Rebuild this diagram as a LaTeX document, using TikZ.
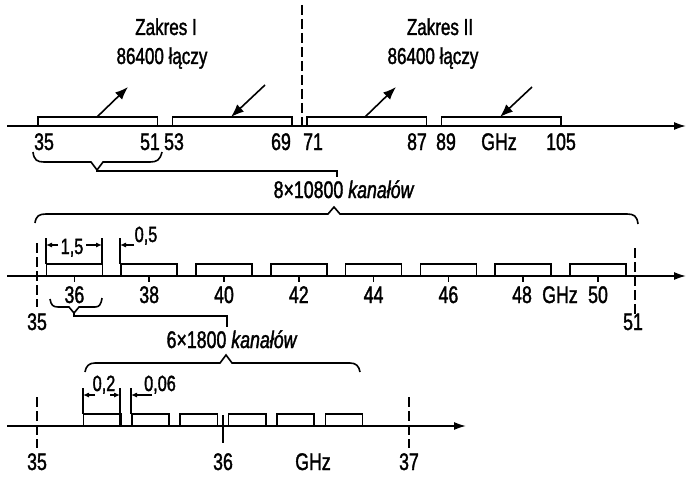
\documentclass[tikz,border=0pt]{standalone}
\usepackage{fontspec}
\setmainfont{Liberation Sans}[FakeStretch=0.74,FakeBold=1.5]
\usetikzlibrary{arrows.meta}
\begin{document}
\begin{tikzpicture}[x=1pt,y=-1pt,line width=1.6pt,
  lbl/.style={font=\fontsize{24}{26}\selectfont, inner sep=0pt, anchor=base},
  ttl/.style={font=\fontsize{23}{25}\selectfont, inner sep=0pt, anchor=base},
  dimlbl/.style={font=\fontsize{22}{24}\selectfont, inner sep=0pt, anchor=base},
  axisarrow/.style={-{Latex[length=12pt,width=8pt]}},
  bigarrow/.style={-{Latex[length=13pt,width=10pt]}},
  dimarrow/.style={-{Latex[length=6pt,width=5pt]}, line width=1.1pt},
  dashv/.style={dash pattern=on 10pt off 4pt, line width=1.4pt}]
\useasboundingbox (0,0) rectangle (687,481);

% ---------------- Row 1 ----------------
\draw[dashv] (302,5) -- (302,127);
\coordinate (a1s) at (7,126);
\coordinate (a1e) at (686,126);
\draw[axisarrow] (a1s) -- (a1e);
\draw (38,126) rectangle (157.5,117);
\draw (172.4,126) rectangle (292,117);
\draw (307,126) rectangle (426.5,117);
\draw (441.5,126) rectangle (561,117);
\coordinate (p1a) at (97,117);  \coordinate (p1b) at (128,87);
\coordinate (p2a) at (265,85);  \coordinate (p2b) at (231,117);
\coordinate (p3a) at (365,117); \coordinate (p3b) at (396,87);
\coordinate (p4a) at (532,87);  \coordinate (p4b) at (500,117);
\draw[bigarrow] (p1a) -- (p1b);
\draw[bigarrow] (p2a) -- (p2b);
\draw[bigarrow] (p3a) -- (p3b);
\draw[bigarrow] (p4a) -- (p4b);

\node[ttl] (z1) at (166,35) {Zakres I};
\node[ttl] (z1n) at (162,64) {86400 łączy};
\node[ttl] (z2) at (440,35) {Zakres II};
\node[ttl] (z2n) at (433,64) {86400 łączy};

\node[lbl] (r1l35) at (44,150) {35};
\node[lbl] (r1l51) at (150,150) {51};
\node[lbl] (r1l53) at (174,150) {53};
\node[lbl] (r1l69) at (281,150) {69};
\node[lbl] (r1l71) at (313,150) {71};
\node[lbl] (r1l87) at (417,150) {87};
\node[lbl] (r1l89) at (446,150) {89};
\node[lbl] (r1ghz) at (499,150) {GHz};
\node[lbl] (r1l105) at (561,150) {105};

% brace under 35-51 and leader
\draw (33,152) .. controls (34,160) and (37,162) .. (44,162) -- (91,162) -- (97,170) -- (103,162) -- (150,162) .. controls (157,162) and (160,160) .. (162,152);
\draw (97,170) -- (97,171) -- (337,171) -- (337,177);

\node[lbl] (k8) at (344,198) {8×10800 \textit{kanałów}};

% big brace row 2
\draw (35,223) .. controls (36,216) and (39,214) .. (46,214) -- (328,214) -- (334,207) -- (340,214) -- (627,214) .. controls (634,214) and (637,216) .. (638,224);

% ---------------- Row 2 ----------------
\coordinate (a2s) at (7,276);
\coordinate (a2e) at (686,276);
\draw[axisarrow] (a2s) -- (a2e);
\draw[dashv] (37,243) -- (37,307);
\draw[dashv] (635,248) -- (635,317);
\foreach \c in {36,38,40,42,44,46,48,50}{
  \pgfmathsetmacro{\xc}{37+(\c-35)*37.4}
  \draw (\xc-28,276) rectangle (\xc+28,264);
  \draw (\xc,276) -- (\xc,282);
}
\foreach \c in {36,38,40,42,44,46}{
  \pgfmathsetmacro{\xc}{37+(\c-35)*37.4}
  \node[lbl] (r2l\c) at (\xc,303) {\c};
}
\node[lbl] (r2l48) at (522,303) {48};
\node[lbl] (r2ghz) at (560,303) {GHz};
\node[lbl] (r2l50) at (598,303) {50};
\node[lbl] (r2l35) at (37,330) {35};
\node[lbl] (r2l51) at (633,330) {51};

% dimensions row 2
\draw (46,238) -- (46,264);
\draw (102,238) -- (102,264);
\draw (120,238) -- (120,264);
\coordinate (d1a) at (58,245);  \coordinate (d1b) at (46,245);
\coordinate (d2a) at (86,245);  \coordinate (d2b) at (102,245);
\coordinate (d3a) at (134,245); \coordinate (d3b) at (120,245);
\draw[dimarrow] (d1a) -- (d1b);
\draw[dimarrow] (d2a) -- (d2b);
\draw[dimarrow] (d3a) -- (d3b);
\node[dimlbl] (dl15) at (72,254) {1,5};
\node[dimlbl] (dl05) at (146,242) {0,5};

% small brace under 36 and leader
\draw (50,299) .. controls (51,305) and (53,307) .. (58,307) -- (69,307) -- (74,313) -- (79,307) -- (95,307) .. controls (99,307) and (101,305) .. (102,298);
\draw (74,313) -- (74,316) -- (227,316) -- (227,327);

\node[lbl] (k6) at (232,348) {6×1800 \textit{kanałów}};

% brace row 3
\draw (85,372) .. controls (86,366) and (89,363) .. (95,363) -- (220,363) -- (226,355) -- (232,363) -- (350,363) .. controls (356,363) and (359,366) .. (360,372);

% ---------------- Row 3 ----------------
\coordinate (a3s) at (7,426);
\coordinate (a3e) at (466,426);
\draw[axisarrow] (a3s) -- (a3e);
\draw[dashv] (37,397) -- (37,448);
\draw[dashv] (409,397) -- (409,448);
\draw (223,415) -- (223,443);
\foreach \k in {0,...,5}{
  \pgfmathsetmacro{\xa}{37+(0.25+0.26*\k)*186}
  \draw (\xa,426) rectangle (\xa+37.2,414);
}
\node[lbl] (r3l35) at (37,470) {35};
\node[lbl] (r3l36) at (223,470) {36};
\node[lbl] (r3ghz) at (313,470) {GHz};
\node[lbl] (r3l37) at (409,470) {37};

% dimensions row 3
\draw (83,388) -- (83,414);
\draw (120,388) -- (120,426);
\draw (131,388) -- (131,414);
\coordinate (e1a) at (95,395);  \coordinate (e1b) at (83,395);
\coordinate (e2a) at (110,395); \coordinate (e2b) at (120,395);
\coordinate (e3a) at (152,395); \coordinate (e3b) at (131,395);
\draw[dimarrow] (e1a) -- (e1b);
\draw[dimarrow] (e2a) -- (e2b);
\draw[dimarrow] (e3a) -- (e3b);
\node[dimlbl] (dl02) at (104,391) {0,2};
\node[dimlbl] (dl006) at (160,391) {0,06};
\end{tikzpicture}
\end{document}
